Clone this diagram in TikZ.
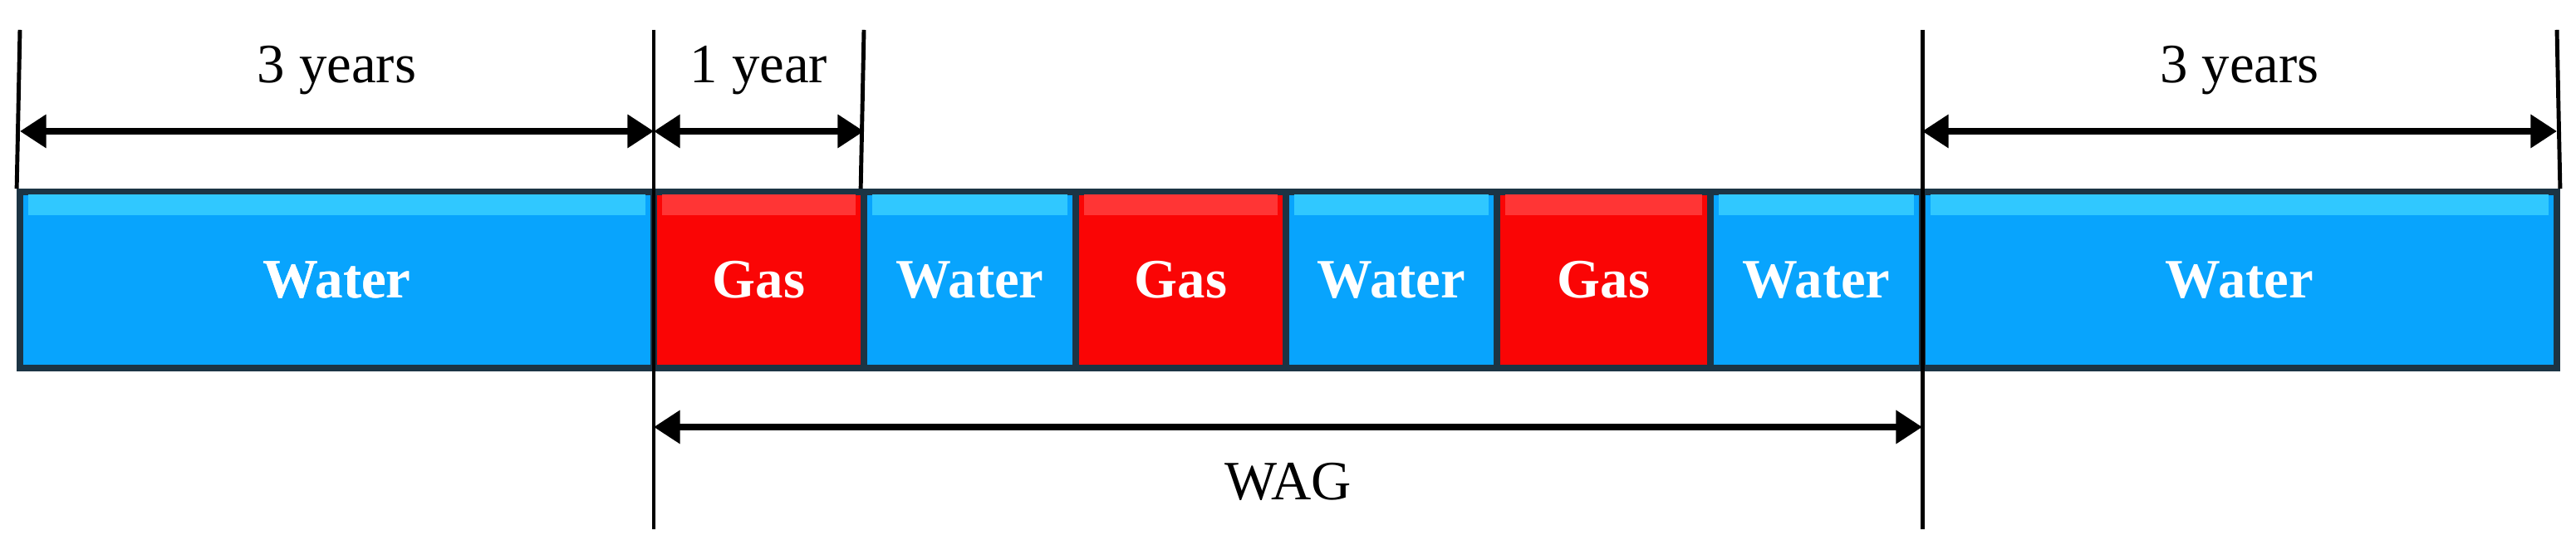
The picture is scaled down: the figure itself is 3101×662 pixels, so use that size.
\documentclass[tikz,border=0pt]{standalone}
\usepackage{fontspec}
\setmainfont{Liberation Serif}
\usetikzlibrary{arrows.meta,fit}
\definecolor{wblue}{HTML}{08A4FD}
\definecolor{wblueL}{HTML}{30C8FF}
\definecolor{gred}{HTML}{FA0505}
\definecolor{gredL}{HTML}{FF3535}
\definecolor{edge}{HTML}{1C3444}
\tikzset{
  seg/.style={draw=edge, line width=2.2pt, inner sep=0pt, text=white, font=\fontsize{19}{19}\selectfont\bfseries},
  water/.style={seg, fill=wblue},
  gas/.style={seg, fill=gred},
  guide/.style={line width=1.4pt},
  dim/.style={line width=2.2pt, {Triangle[length=9pt,width=11pt]}-{Triangle[length=9pt,width=11pt]}},
  lab/.style={font=\fontsize{19}{19}\selectfont}
}
\begin{document}
\begin{tikzpicture}[x=0.01cm,y=-0.01cm]
\useasboundingbox (0,0) rectangle (3101,662);
\foreach \i/\x in {0/24,1/787,2/1040,3/1295,4/1548,5/1802,6/2059,7/2314,8/3078}{
  \coordinate (u\i) at (\x,231); \coordinate (l\i) at (\x,443);
}
\node[water, fit=(u0)(l1)] (b1) {}; \node[white, font=\fontsize{19}{19}\selectfont\bfseries] at (b1) {Water};
\node[gas, fit=(u1)(l2)] (b2) {};
\node[water, fit=(u2)(l3)] (b3) {};
\node[gas, fit=(u3)(l4)] (b4) {};
\node[water, fit=(u4)(l5)] (b5) {};
\node[gas, fit=(u5)(l6)] (b6) {};
\node[water, fit=(u6)(l7)] (b7) {};
\node[water, fit=(u7)(l8)] (b8) {};
\foreach \n/\c/\t in {b1/wblueL/Water,b2/gredL/Gas,b3/wblueL/Water,b4/gredL/Gas,b5/wblueL/Water,b6/gredL/Gas,b7/wblueL/Water,b8/wblueL/Water}{
  \fill[\c] ([xshift=4pt,yshift=-2pt]\n.north west) rectangle ([xshift=-4pt,yshift=-9pt]\n.north east);
  \node[text=white, font=\fontsize{19}{19}\selectfont\bfseries] at (\n.center) {\t};
}
\coordinate (t1) at (24,36); \coordinate (t2) at (787,36); \coordinate (t3) at (1040,36);
\coordinate (t4) at (2314,36); \coordinate (t5) at (3078,36);
\coordinate (d2) at (787,637); \coordinate (d4) at (2314,637);
\draw[guide] (t1) -- (b1.north west);
\draw[guide] (t2) -- (d2);
\draw[guide] (t3) -- (b3.north west);
\draw[guide] (t4) -- (d4);
\draw[guide] (t5) -- (b8.north east);
\coordinate (a1) at (24,158); \coordinate (a2) at (787,158); \coordinate (a3) at (1040,158);
\coordinate (a4) at (2314,158); \coordinate (a5) at (3078,158);
\coordinate (w1) at (787,514); \coordinate (w2) at (2314,514);
\draw[dim] (a1) -- node[lab, above=8pt] {3 years} (a2);
\draw[dim] (a2) -- node[lab, above=8pt] {1 year} (a3);
\draw[dim] (a4) -- node[lab, above=8pt] {3 years} (a5);
\draw[dim] (w1) -- node[lab, below=8pt] {WAG} (w2);
\end{tikzpicture}
\end{document}
